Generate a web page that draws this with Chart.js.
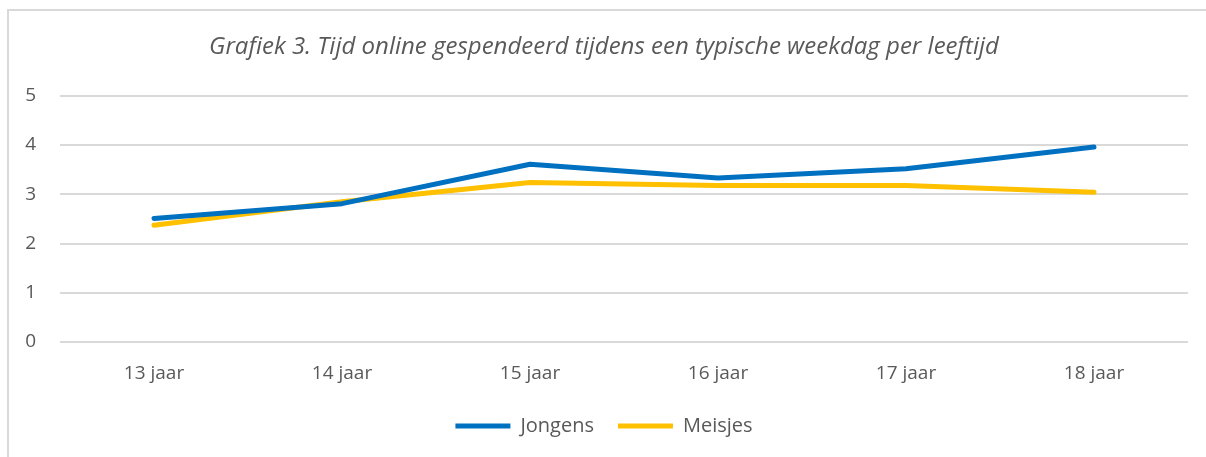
<!DOCTYPE html>
<html>
<head>
<meta charset="utf-8">
<script src="https://cdn.jsdelivr.net/npm/chart.js@4"></script>
<style>
  html, body { margin: 0; padding: 0; background: #fff; }
  #wrap { position: relative; width: 1206px; height: 457px; overflow: hidden; }
  #frame { position: absolute; left: 7px; top: 9px; width: 1300px; height: 600px;
           border-top: 2px solid #d9d9d9; border-left: 2px solid #d9d9d9; }
  canvas { position: absolute; left: 0; top: 0; }
</style>
</head>
<body>
<div id="wrap">
  <div id="frame"></div>
  <canvas id="lineChart" width="1206" height="457"></canvas>
</div>
<script>
const categories = ["13 jaar", "14 jaar", "15 jaar", "16 jaar", "17 jaar", "18 jaar"];
const jongens = [2.51, 2.81, 3.61, 3.33, 3.52, 3.96];
const meisjes = [2.37, 2.85, 3.24, 3.18, 3.18, 3.04];
const yTicks = [0, 1, 2, 3, 4, 5];
const titleText = "Grafiek 3. Tijd online gespendeerd tijdens een typische weekdag per leeftijd";

const textColor = "#595959";
const fontFamily = "'Open Sans', sans-serif";

new Chart(document.getElementById("lineChart"), {
  type: "line",
  data: {
    labels: categories,
    datasets: [
      {
        label: "Jongens",
        data: jongens,
        borderColor: "#0070c0",
        backgroundColor: "#0070c0",
        borderWidth: 5,
        borderCapStyle: "round",
        borderJoinStyle: "round",
        pointRadius: 0,
        tension: 0
      },
      {
        label: "Meisjes",
        data: meisjes,
        borderColor: "#ffc000",
        backgroundColor: "#ffc000",
        borderWidth: 5,
        borderCapStyle: "round",
        borderJoinStyle: "round",
        pointRadius: 0,
        tension: 0
      }
    ]
  },
  options: {
    responsive: false,
    animation: false,
    layout: { padding: { left: 20, right: 18, top: 9, bottom: 11 } },
    plugins: {
      title: {
        display: true,
        text: titleText,
        color: textColor,
        font: { family: fontFamily, size: 24, style: "italic", weight: "normal" },
        padding: { top: 24, bottom: 34 }
      },
      legend: {
        position: "bottom",
        labels: {
          usePointStyle: true,
          pointStyle: "line",
          pointStyleWidth: 55,
          color: textColor,
          font: { family: fontFamily, size: 20 },
          padding: 24
        }
      },
      tooltip: { enabled: false }
    },
    scales: {
      x: {
        offset: true,
        grid: { display: false },
        border: { display: false },
        ticks: { color: textColor, font: { family: fontFamily, size: 19 }, padding: 12 },
        afterFit: (scale) => { scale.height = 50; }
      },
      y: {
        min: 0,
        max: 5,
        afterBuildTicks: (scale) => { scale.ticks = yTicks.map(v => ({ value: v })); },
        grid: { color: "#d9d9d9", lineWidth: 2, drawTicks: false },
        border: { display: false },
        ticks: { color: textColor, font: { family: fontFamily, size: 19 }, padding: 24 },
        afterFit: (scale) => { scale.width = 40; }
      }
    }
  }
});
</script>
</body>
</html>
